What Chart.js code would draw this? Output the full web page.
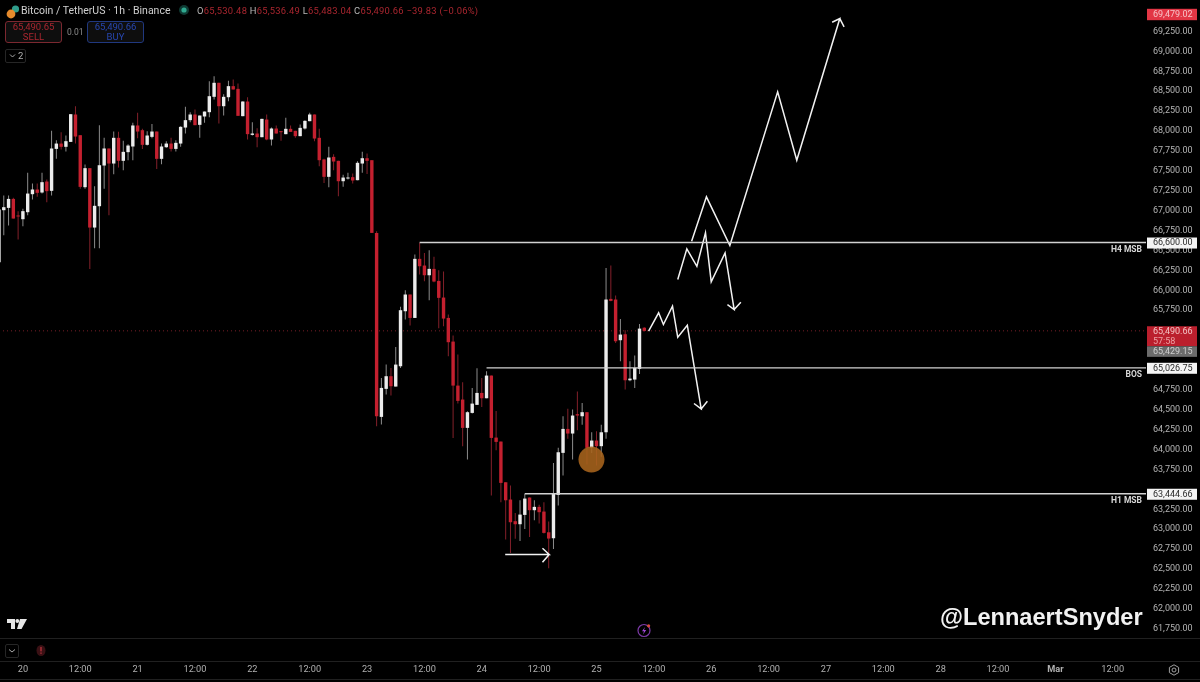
<!DOCTYPE html>
<html>
<head>
<meta charset="utf-8">
<title>BTCUSDT 1h</title>
<script src="https://cdn.jsdelivr.net/npm/chart.js@4"></script>
<style>
    html, body { margin: 0; padding: 0; background: #000; width: 1200px; height: 682px; overflow: hidden; }
    #wrap { position: relative; width: 1200px; height: 682px; font-family: Roboto, sans-serif; }
    canvas { position: absolute; left: 0; top: 0; }
    .abs { position: absolute; white-space: nowrap; }
    .sep { position: absolute; left: 0; width: 1200px; height: 1px; background: #202020; }
    .red { color: #a9262f; }
    .box { position: absolute; box-sizing: border-box; height: 22px; width: 57px; border-radius: 3px; border: 1px solid; text-align: center; font-size: 9.5px; line-height: 10px; padding-top: 0; background: #0e0e0e; }
</style>
</head>
<body>
<div id="wrap">
    <canvas id="chart" width="1200" height="682"></canvas>

    <!-- шапка -->
    <svg class="abs" style="left:5px;top:4px" width="16" height="16" viewBox="0 0 16 16">
        <circle cx="10.5" cy="5" r="3.6" fill="#2f9c8b"/>
        <circle cx="6" cy="10" r="4.4" fill="#e58a2c"/>
    </svg>
    <div class="abs" style="left:21px;top:3px;font-size:10.5px;line-height:15px;color:#d0d0d0">Bitcoin / TetherUS · 1h · Binance</div>
    <svg class="abs" style="left:179px;top:5px" width="10" height="10"><circle cx="5" cy="5" r="5" fill="#0f3a33"/><circle cx="5" cy="5" r="2.6" fill="#2fa88f"/></svg>
    <div class="abs" style="left:197px;top:4px;font-size:9.4px;line-height:13px;letter-spacing:.25px;color:#b8b8b8">O<span class="red">65,530.48</span> H<span class="red">65,536.49</span> L<span class="red">65,483.04</span> C<span class="red">65,490.66</span> <span class="red">−39.83 (−0.06%)</span></div>

    <div class="box" style="left:5px;top:21px;border-color:#7c2830;color:#a9262f">65,490.65<br>SELL</div>
    <div class="abs" style="left:67px;top:26px;font-size:8.5px;line-height:12px;color:#8c8c8c">0.01</div>
    <div class="box" style="left:87px;top:21px;border-color:#20387f;color:#2746ae">65,490.66<br>BUY</div>
    <div class="abs" style="left:5px;top:49px;box-sizing:border-box;width:21px;height:14px;border:1px solid #262626;border-radius:2px;font-size:9.5px;line-height:12px;color:#b0b0b0;padding-left:12px">2</div>
    <svg class="abs" style="left:9px;top:53px" width="7" height="6"><path d="M1 1.5 L3.5 4 L6 1.5" stroke="#a8a8a8" fill="none"/></svg>

    <div class="abs" style="left:940px;top:603px;font-family:'Liberation Sans',sans-serif;font-weight:bold;font-size:23.6px;line-height:29px;color:#f2f2f2">@LennaertSnyder</div>

    <!-- логотип и значки внизу -->
    <svg class="abs" style="left:7px;top:619px" width="21" height="11" viewBox="0 0 21 11">
        <path d="M0 0H8V10H4V4H0Z M13 0H20L14.5 10H10Z" fill="#e6e6e6"/><circle cx="10.3" cy="2" r="1.9" fill="#e6e6e6"/>
    </svg>
    <svg class="abs" style="left:636px;top:621px" width="18" height="18" viewBox="0 0 18 18">
        <circle cx="8" cy="9.5" r="6" fill="none" stroke="#7d3aa8" stroke-width="1.2"/>
        <path d="M9 6 L6 10.2 H8 L7 13.5 L10.2 9 H8 Z" fill="#a048d8"/>
        <circle cx="12.6" cy="4.8" r="1.6" fill="#d84a3a"/>
    </svg>
    <div class="sep" style="top:638px"></div>
    <div class="sep" style="top:661px"></div>
    <div class="sep" style="top:679px"></div>
    <div class="abs" style="left:5px;top:644px;box-sizing:border-box;width:14px;height:14px;border:1px solid #262626;border-radius:2px"></div>
    <svg class="abs" style="left:8px;top:648px" width="8" height="6"><path d="M1 1.5 L4 4 L7 1.5" stroke="#a8a8a8" fill="none"/></svg>
    <svg class="abs" style="left:35px;top:644px" width="12" height="13"><ellipse cx="6" cy="6.5" rx="4.5" ry="5.5" fill="#3a1014"/><rect x="5.4" y="3" width="1.2" height="4.4" fill="#c43540"/><rect x="5.4" y="8.5" width="1.2" height="1.3" fill="#c43540"/></svg>
    <svg class="abs" style="left:1167px;top:663px" width="14" height="14" viewBox="0 0 14 14"><path d="M7 1.8 L11.6 4.4 V9.6 L7 12.2 L2.4 9.6 V4.4 Z" fill="none" stroke="#a0a0a0"/><circle cx="7" cy="7" r="2" fill="none" stroke="#a0a0a0"/></svg>
</div>

<script>
// часы от 20 февраля 00:00
const hours = [-5,-4,-3,-2,-1,0,1,2,3,4,5,6,7,8,9,10,11,12,13,14,15,16,17,18,19,20,21,22,23,24,25,26,27,28,29,30,
    31,32,33,34,35,36,37,38,39,40,41,42,43,44,45,46,47,48,49,50,51,52,53,54,55,56,57,58,59,60,61,62,63,64,65,66,
    67,68,69,70,71,72,73,74,75,76,77,78,79,80,81,82,83,84,85,86,87,88,89,90,91,92,93,94,95,96,97,98,99,100,101,102,
    103,104,105,106,107,108,109,110,111,112,113,114,115,116,117,118,119,120,121,122,123,124,125,126,127,128,129,130];

const opens = [66353,67006,67035,67148,66931,66893,66981,67207,67266,67228,67366,67249,67776,67843,67802,67864,68208,67948,67295,67534,
    66788,67056,67567,67781,67592,67915,67626,67735,67806,68070,68011,67827,67927,67994,67651,67797,67843,67776,67843,68044,
    68137,68208,68078,68183,68237,68430,68606,68312,68425,68564,68530,68187,68371,67952,67969,67923,68145,67894,68032,67994,
    67961,68028,68003,67936,68032,68124,68208,67915,67643,67425,67676,67626,67370,67404,67421,67383,67592,67659,67634,66721,
    64410,64762,64921,64791,65046,65737,65947,65653,66395,66311,66189,66269,66118,65909,65653,65356,64803,64628,64272,64460,
    64561,64711,64644,64929,64150,64100,63589,63372,63100,63062,63179,63397,63238,63280,63221,62961,62886,63430,63958,64259,
    64201,64444,64418,64469,64021,64113,64042,64217,65892,65884,65373,65448,64870,64879,65013,65530];

const highs = [67014,67190,67190,67161,66994,67023,67475,67341,67341,67475,67391,68003,67885,67986,67944,68212,68312,67948,67580,67534,
    67308,68074,67915,67781,67994,67990,67877,67835,68103,68229,68028,67998,68090,67994,67843,67873,67915,67885,68061,68304,
    68237,68271,68195,68245,68626,68689,68606,68463,68631,68647,68597,68375,68425,68111,68036,68153,68208,68044,68070,67998,
    68166,68070,68003,68082,68137,68229,68208,68028,67651,67802,67710,67626,67450,67475,67467,67622,67739,67718,67634,66742,
    64900,65067,65025,65289,65792,66001,65947,66449,66596,66470,66503,66420,66252,66235,65695,65431,65193,64845,64481,64774,
    65021,64900,64984,64929,64485,64100,63589,63548,63204,63363,63444,63397,63363,63305,63338,63095,63832,64021,64418,64511,
    64502,64728,64586,64469,64217,64230,64310,66281,66311,65934,65641,65498,65109,65180,65578,65536];

const lows = [66353,66692,66813,66901,66638,66805,66943,67140,67174,67215,67107,67190,67651,67768,67743,67864,67843,67274,67274,66269,
    66529,66529,67274,66943,67458,67542,67509,67634,67634,67910,67776,67818,67910,67525,67584,67789,67743,67743,67802,67969,
    68111,68074,67915,68103,68174,68396,68095,68195,68375,68522,68191,68187,67894,67944,67797,67923,67885,67818,67969,67877,
    67961,67990,67915,67936,68019,68124,67873,67559,67349,67295,67509,67182,67299,67391,67341,67383,67475,67462,66721,64293,
    64314,64690,64678,64791,65025,65633,65557,65653,66198,66114,65875,66101,65524,65549,65172,64146,64577,64041,63874,64452,
    64561,64535,64644,63422,63991,63338,62869,62702,62878,62852,63003,62903,63112,63070,62945,62509,62752,63296,63673,64134,
    63874,64243,64310,63811,63958,63799,63908,64134,65863,65339,65109,64753,64858,64774,64950,65483];

const closes = [67014,67044,67148,66901,66927,66994,67215,67266,67224,67358,67245,67781,67843,67802,67873,68212,67931,67299,67534,66788,
    67061,67571,67781,67592,67915,67626,67739,67818,68070,67994,67827,67944,67994,67651,67806,67843,67776,67852,68053,68137,
    68208,68074,68195,68245,68438,68606,68312,68430,68564,68522,68191,68371,67961,67969,67923,68153,67894,68032,67969,67986,
    68028,67990,67936,68040,68128,68208,67906,67634,67425,67668,67617,67370,67416,67416,67379,67601,67659,67626,66721,64418,
    64774,64921,64795,65067,65750,65947,65653,66395,66302,66189,66269,66110,65905,65645,65348,64803,64611,64272,64469,64577,
    64711,64644,64929,64146,64096,63581,63363,63087,63062,63183,63384,63238,63280,63213,62953,62882,63443,63966,64259,64201,
    64427,64427,64469,64021,64113,64042,64217,65884,65867,65360,65444,64870,64891,65025,65519,65490];

// подписи осей
const yTicks = [61750,62000,62250,62500,62750,63000,63250,63750,64000,64250,64500,64750,65750,66000,66250,66500,66750,
    67000,67250,67500,67750,68000,68250,68500,68750,69000,69250];
const xTickHours = [0,12,24,36,48,60,72,84,96,108,120,132,144,156,168,180,192,204,216,228];
const xTickLabels = ['20','12:00','21','12:00','22','12:00','23','12:00','24','12:00','25','12:00','26','12:00','27','12:00','28','12:00','Mar','12:00'];

// уровни
const levelPrices = [66600, 65026.75, 63444.66];
const levelStarts = [83, 97, 105];
const levelNames = ['H4 MSB', 'BOS', 'H1 MSB'];
const lastPrice = 65490.66;
const countdown = '57:58';
const prevPrice = 65429.15;
const highPrice = 69479.02;

// стрелки
const upArrowX = [139.9,143,147.9,157.9,161.9,170.9,169.3,170.9,171.8];
const upArrowY = [66616,67174,66562,68493,67634,69413,69367,69413,69309];
const lowArrowX = [137,138.9,141,142.8,144,146.9,148.8,147.4,148.8,150.2];
const lowArrowY = [66135,66521,66302,66722,66106,66470,65758,65821,65758,65850];
const midArrowX = [130.9,133,134,135.9,137,139,141.9,140.4,141.9,143.2];
const midArrowY = [65486,65717,65570,65800,65410,65561,64511,64578,64511,64607];
const flatArrowX = [100.9,110.1,108.7,110.1,108.7];
const flatArrowY = [62681,62681,62760,62681,62584];
const circleX = [118.95];
const circleY = [63874];

const toPoints = (xs, ys) => xs.map((x, i) => ({ x: x, y: ys[i] }));

const isDown = hours.map((_, i) => closes[i] < opens[i]);

function lineSet(points, color, width) {
    return { type: 'line', data: points, borderColor: color, borderWidth: width, pointRadius: 0, tension: 0, order: 0 };
}

const levelSets = levelPrices.map((p, i) => lineSet([{ x: levelStarts[i], y: p }, { x: 235, y: p }], '#d2d2d2', 1.3));
const lastLine = lineSet([{ x: -5, y: lastPrice }, { x: 235, y: lastPrice }], '#7a1f28', 1);
lastLine.borderDash = [1, 3];
lastLine.order = 3;

const ctx = document.getElementById('chart').getContext('2d');

// ценовые плашки справа
const priceBoxes = {
    id: 'priceBoxes',
    afterDatasetsDraw(chart) {
        const c = chart.ctx;
        const y = chart.scales.y;
        const left = chart.chartArea.right + 1;
        const fmt = v => v.toLocaleString('en-US', { minimumFractionDigits: 2, maximumFractionDigits: 2 });
        const box = (top, h, bg) => { c.fillStyle = bg; c.fillRect(left, top, 50, h); };
        const text = (s, py, color) => { c.fillStyle = color; c.fillText(s, left + 6, py); };

        c.save();
        c.font = '9px Roboto';
        c.textBaseline = 'middle';
        c.textAlign = 'left';

        levelPrices.forEach(p => {
            const py = y.getPixelForValue(p);
            box(py - 5, 11, '#f4f4f4');
            text(fmt(p), py + 0.5, '#2a2a2a');
        });

        const py = y.getPixelForValue(lastPrice);
        box(py - 4.6, 20, '#bb1f2d');
        text(fmt(lastPrice), py + 1, '#f2c4c4');
        text(countdown, py + 10.5, '#eda0a4');
        box(py + 15.4, 10.6, '#6c6c6c');
        text(fmt(prevPrice), py + 20.8, '#cfcfcf');

        const hy = y.getPixelForValue(highPrice);
        box(hy - 4.5, 11.4, '#e23645');
        text(fmt(highPrice), hy + 1.2, '#f7c2c6');

        // подписи уровней
        c.font = 'bold 8.5px Roboto';
        c.textAlign = 'right';
        c.fillStyle = '#d8d8d8';
        levelPrices.forEach((p, i) => c.fillText(levelNames[i], chart.chartArea.right - 4, y.getPixelForValue(p) + 7.5));
        c.restore();
    }
};

// убрать поля, которые Chart.js оставляет под крайние подписи
function noMargins(scale) {
    scale.paddingLeft = 0;
    scale.paddingRight = 0;
    scale.paddingTop = 0;
    scale.paddingBottom = 0;
}

new Chart(ctx, {
    type: 'bar',
    data: {
        datasets: [
            {
                data: hours.map((h, i) => ({ x: h, y: [lows[i], highs[i]] })),
                backgroundColor: isDown.map(d => d ? '#84202a' : '#8c8c8c'),
                barThickness: 1, grouped: false, order: 2, inflateAmount: 0
            },
            {
                data: hours.map((h, i) => ({ x: h, y: [Math.min(opens[i], closes[i]), Math.max(opens[i], closes[i])] })),
                backgroundColor: isDown.map(d => d ? '#c4202f' : '#ececec'),
                barThickness: 3.4, minBarLength: 1, grouped: false, order: 1, inflateAmount: 0
            },
            lastLine,
            ...levelSets,
            lineSet(toPoints(upArrowX, upArrowY), '#f2f2f2', 1.5),
            lineSet(toPoints(lowArrowX, lowArrowY), '#f2f2f2', 1.5),
            lineSet(toPoints(midArrowX, midArrowY), '#f2f2f2', 1.5),
            lineSet(toPoints(flatArrowX, flatArrowY), '#f2f2f2', 1.5),
            {
                type: 'line', data: toPoints(circleX, circleY), showLine: false, order: 0,
                pointRadius: 13, pointBorderWidth: 0, pointBackgroundColor: 'rgba(168,100,28,0.88)'
            }
        ]
    },
    options: {
        responsive: false,
        animation: false,
        // autoPadding оставляет поле под радиус большой точки
        layout: { padding: 0, autoPadding: false },
        plugins: { legend: { display: false }, tooltip: { enabled: false } },
        scales: {
            x: {
                type: 'linear', offset: false, min: -4.79, max: 234.96,
                afterBuildTicks: scale => { scale.ticks = xTickHours.map(v => ({ value: v })); },
                afterFit: scale => { scale.height = 44; noMargins(scale); },
                // отступ подписи делаем прозрачной засечкой
                grid: { display: true, drawOnChartArea: false, drawTicks: true, tickLength: 26, tickColor: 'transparent' },
                border: { display: false },
                ticks: {
                    autoSkip: false, maxRotation: 0, padding: 0, color: '#b0b0b0',
                    font: c => ({ family: 'Roboto', size: 9.2, weight: xTickLabels[c.index] === 'Mar' ? 'bold' : 'normal' }),
                    callback: (v, i) => xTickLabels[i]
                }
            },
            y: {
                position: 'right', min: 61633, max: 69646,
                afterBuildTicks: scale => { scale.ticks = yTicks.map(v => ({ value: v })); },
                afterFit: scale => { scale.width = 54; noMargins(scale); },
                grid: { display: true, drawOnChartArea: false, drawTicks: true, tickLength: 7, tickColor: 'transparent' },
                border: { display: false },
                ticks: {
                    autoSkip: false, padding: 0, color: '#b4b4b4',
                    font: { family: 'Roboto', size: 9 },
                    callback: v => v.toLocaleString('en-US', { minimumFractionDigits: 2, maximumFractionDigits: 2 })
                }
            }
        }
    },
    plugins: [priceBoxes]
});
</script>
</body>
</html>
